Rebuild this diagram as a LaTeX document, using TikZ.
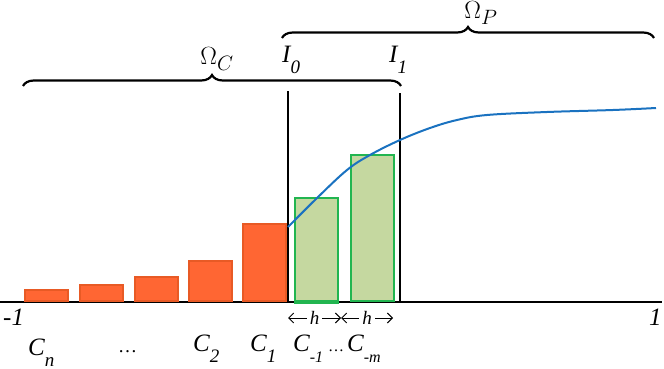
\documentclass[tikz,border=0pt]{standalone}
\usepackage{amsmath,amssymb}
\usepackage{fontspec}
\setmainfont{Liberation Serif}
\usepackage{tikz}
\usepackage{xcolor}
\usetikzlibrary{arrows.meta,positioning,decorations.pathreplacing}
\definecolor{barorange}{HTML}{FF6633}
\definecolor{edgeorange}{HTML}{E85A25}
\definecolor{bargreen}{HTML}{C5D8A0}
\definecolor{edgegreen}{HTML}{22B550}
\definecolor{curveblue}{HTML}{1A72C0}
% letter with a deep italic subscript
\newcommand{\lowsub}[3]{\itshape #1\raisebox{-11pt}{\fontsize{#3}{#3}\selectfont #2}}

\begin{document}
\begin{tikzpicture}[
    x=1pt, y=-1pt,
    cbar/.style={draw=edgeorange, line width=2pt, fill=barorange, minimum width=43pt, inner sep=0pt, anchor=south west},
    pbar/.style={draw=edgegreen, line width=2pt, fill=bargreen, minimum width=43pt, inner sep=0pt, anchor=south west},
    lab/.style={font=\fontsize{25}{28}\selectfont, inner sep=0pt, anchor=base west},
    brc/.style={decorate, decoration={brace, amplitude=11pt, raise=0pt}, line width=2.2pt},
    wall/.style={line width=2.8pt},
    dim/.style={{Straight Barb[length=5pt]}-{Straight Barb[length=5pt]}, line width=1pt}
  ]
    \useasboundingbox (0,0) rectangle (664,369);

    % axis
    \coordinate (left) at (0,302);
    \coordinate (right) at (662,302);
    \draw[line width=2.5pt] (left) -- (right);

    % cells of the classical part
    \node[cbar, minimum height=11pt] (cn) at (24,302) {};
    \node[cbar, minimum height=16pt] (cn1) at (79,302) {};
    \node[cbar, minimum height=24pt] (cn2) at (134,302) {};
    \node[cbar, minimum height=40pt] (c2) at (187.5,302) {};
    \node[cbar, minimum height=77pt] (c1) at (241.5,302) {};

    % cells of the particle part
    \node[pbar, minimum height=103pt] (cm1) at (294,302) {};
    \node[pbar, minimum height=146pt] (cmm) at (349.5,302) {};
    \draw[edgegreen, line width=3pt] (cm1.south west) -- (cm1.south east);

    % interface walls
    \coordinate (i0top) at (288,91);
    \coordinate (i0bot) at (288,302);
    \coordinate (i1top) at (400,93);
    \coordinate (i1bot) at (400,302);
    \draw[wall] (i0top) -- (i0bot);
    \draw[wall] (i1top) -- (i1bot);

    % solution curve
    \draw[curveblue, line width=2pt] plot[smooth, tension=0.6] coordinates {
      (288,227) (317,198) (347,170) (370,155) (400,140) (430,128)
      (457,120) (487,115) (547,112) (613,110) (656,108)};

    % braces
    \coordinate (oca) at (23,86);
    \coordinate (ocb) at (401,86);
    \coordinate (opa) at (282,38);
    \coordinate (opb) at (654,38);
    \draw[brc] (oca) -- (ocb);
    \draw[brc] (opa) -- (opb);
    \node[lab, anchor=center, font=\fontsize{29}{30}\selectfont] (omc) at (217,59) {$\Omega_C$};
    \node[lab, anchor=center, font=\fontsize{29}{30}\selectfont] (omp) at (481,13) {$\Omega_P$};
    \node[lab] (i0) at (282,63) {\lowsub{I}{0}{19}};
    \node[lab] (i1) at (389,63) {\lowsub{I}{1}{19}};

    % mesh size
    \coordinate (h0) at (288,318);
    \coordinate (h1) at (341,318);
    \coordinate (h2) at (393,318);
    \draw[dim] (h0) -- node[fill=white, inner xsep=3pt, inner ysep=1pt, font=\fontsize{19}{20}\selectfont]{\textit{h}} (h1);
    \draw[dim] (h1) -- node[fill=white, inner xsep=3pt, inner ysep=1pt, font=\fontsize{19}{20}\selectfont]{\textit{h}} (h2);

    % end points and cell names
    \node[lab] (mone) at (3,325) {\textit{-1}};
    \node[lab] (one) at (649,325) {\textit{1}};
    \node[lab] (lcn) at (28,355) {\lowsub{C}{n}{19}};
    \node[lab, font=\fontsize{19}{20}\selectfont] (ldots) at (118,352) {\dots};
    \node[lab] (lc2) at (193,351) {\lowsub{C}{2}{19}};
    \node[lab] (lc1) at (250,351) {\lowsub{C}{1}{19}};
    \node[lab] (lcm1) at (293,351) {\lowsub{C}{-1}{16}};
    \node[lab, font=\fontsize{16}{18}\selectfont] (ldots2) at (328,351) {\dots};
    \node[lab] (lcm) at (347,351) {\lowsub{C}{-m}{16}};
\end{tikzpicture}
\end{document}
